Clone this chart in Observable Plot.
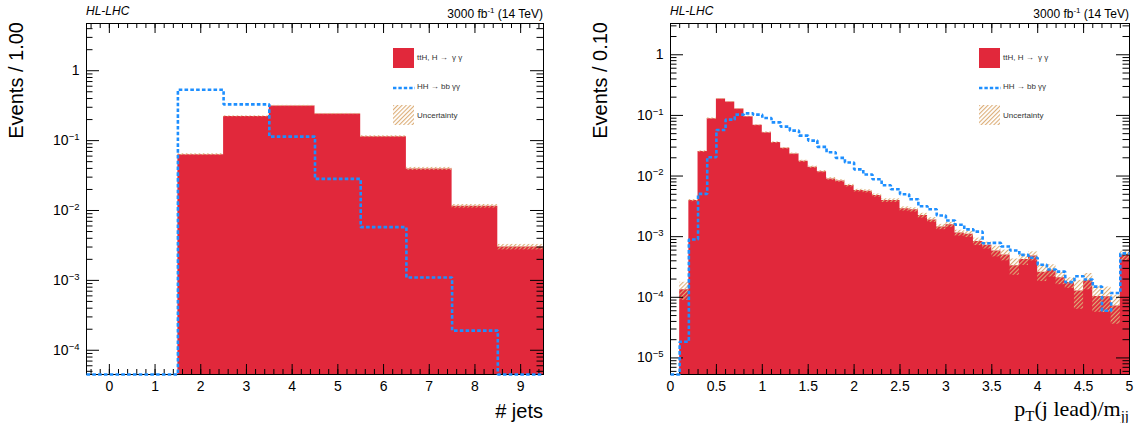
<!DOCTYPE html>
<html>
<head>
<meta charset="utf-8">
<script src="https://cdn.jsdelivr.net/npm/d3@7"></script>
<script src="https://cdn.jsdelivr.net/npm/@observablehq/plot@0.6"></script>
<style>
  html, body { margin: 0; padding: 0; background: #fff; }
  #wrap { position: relative; width: 1137px; height: 423px; overflow: hidden; font-family: 'Liberation Sans', Arial, Helvetica, sans-serif; color: #000; }
  .abs { position: absolute; white-space: nowrap; }
  .ylab { font-size: 20px; line-height: 20px; transform-origin: 0 0; transform: rotate(-90deg) translate(-100%, -50%); }
  .xlab { font-size: 20px; line-height: 20px; }
  .serif { font-family: 'Liberation Serif', 'DejaVu Serif', serif; font-size: 22px; line-height: 22px; }
  .top { font-size: 12px; line-height: 14px; }
  .leg { font-size: 8px; line-height: 10px; color: #333; }
</style>
</head>
<body>
<svg width="0" height="0" style="position:absolute">
  <defs>
    <pattern id="hatch" patternUnits="userSpaceOnUse" width="3" height="3" patternTransform="rotate(45)">
      <rect x="0" y="0" width="1.1" height="3" fill="#dcae78"></rect>
    </pattern>
  </defs>
</svg>
<div id="wrap"></div>
<script>
// ---------------- data: left panel (# jets) ----------------
const jetCategories = [0, 1, 2, 3, 4, 5, 6, 7, 8, 9];
const jetsTTH = [0, 0, 0.063, 0.222, 0.313, 0.24, 0.114, 0.0394, 0.0115, 0.0030];
const jetsHH  = [0, 0, 0.535, 0.33, 0.114, 0.0283, 0.00578, 0.0011, 0.000191, 0];
const jetsRelUnc = [0, 0, 0.03, 0.02, 0.02, 0.02, 0.03, 0.05, 0.06, 0.09];
const jetTicks = [0, 1, 2, 3, 4, 5, 6, 7, 8, 9];

// ---------------- data: right panel (pT(j lead)/mjj) ----------------
const ptBinLow = [0.0, 0.1, 0.2, 0.3, 0.4, 0.5, 0.6, 0.7, 0.8, 0.9,
                  1.0, 1.1, 1.2, 1.3, 1.4, 1.5, 1.6, 1.7, 1.8, 1.9,
                  2.0, 2.1, 2.2, 2.3, 2.4, 2.5, 2.6, 2.7, 2.8, 2.9,
                  3.0, 3.1, 3.2, 3.3, 3.4, 3.5, 3.6, 3.7, 3.8, 3.9,
                  4.0, 4.1, 4.2, 4.3, 4.4, 4.5, 4.6, 4.7, 4.8, 4.9];
const ptTTH = [0, 1.33e-4, 3.94e-3, 0.0253, 0.0883, 0.186, 0.166, 0.127, 0.0953, 0.0686,
               0.052, 0.0356, 0.0287, 0.0232, 0.0175, 0.0140, 0.0118, 8.97e-3, 8.3e-3, 6.96e-3,
               5.76e-3, 5.6e-3, 4.77e-3, 3.94e-3, 3.94e-3, 2.88e-3, 2.77e-3, 2.23e-3, 1.89e-3, 1.45e-3,
               1.57e-3, 1.15e-3, 1.10e-3, 8.3e-4, 7.2e-4, 5.8e-4, 5.0e-4, 3.3e-4, 4.2e-4, 4.8e-4,
               2.6e-4, 2.8e-4, 2.1e-4, 1.75e-4, 1.27e-4, 1.9e-4, 1.03e-4, 1.02e-4, 7.2e-5, 4.9e-4];
const ptHH  = [0, 1.85e-5, 9.0e-4, 5.08e-3, 0.0204, 0.0575, 0.0851, 0.103, 0.108, 0.103,
               0.0906, 0.0769, 0.0652, 0.0561, 0.0464, 0.0384, 0.0303, 0.0247, 0.0199, 0.0167,
               0.0129, 0.0106, 8.85e-3, 7.05e-3, 6.05e-3, 5.01e-3, 4.15e-3, 3.18e-3, 2.84e-3, 2.23e-3,
               1.85e-3, 1.57e-3, 1.32e-3, 1.21e-3, 7.8e-4, 7.9e-4, 6.9e-4, 5.9e-4, 5.0e-4, 4.5e-4,
               3.44e-4, 2.88e-4, 2.65e-4, 1.78e-4, 2.22e-4, 1.97e-4, 1.5e-4, 6.0e-5, 1.18e-4, 5.3e-4];
const ptRelUnc = [0, 0.33, 0.04, 0.03, 0.03, 0.02, 0.02, 0.02, 0.02, 0.02,
                  0.03, 0.03, 0.03, 0.03, 0.04, 0.04, 0.04, 0.05, 0.05, 0.05,
                  0.05, 0.06, 0.06, 0.07, 0.07, 0.08, 0.08, 0.09, 0.09, 0.10,
                  0.10, 0.11, 0.12, 0.14, 0.13, 0.20, 0.20, 0.30, 0.20, 0.17,
                  0.30, 0.23, 0.23, 0.20, 0.50, 0.30, 0.45, 0.45, 0.50, 0.18];
const ptTicks = [0, 0.5, 1, 1.5, 2, 2.5, 3, 3.5, 4, 4.5, 5];

const RED = "#e1283b";
const BLUE = "#1e8fff";

function histPoints(lows, width, vals, ymin) {
  const pts = lows.map((x, i) => ({x, y: Math.max(vals[i], ymin)}));
  pts.push({x: lows[lows.length - 1] + width, y: Math.max(vals[vals.length - 1], ymin)});
  return pts;
}
function uncRects(lows, width, vals, rel) {
  return lows.map((x, i) => ({x1: x, x2: x + width, y1: vals[i] * (1 - rel[i]), y2: vals[i] * (1 + rel[i])}))
             .filter(d => d.y2 > 0);
}
function logMinor(ymin, ymax) {
  const out = [];
  for (let e = -8; e <= 2; e++) for (let k = 2; k <= 9; k++) {
    const v = k * Math.pow(10, e);
    if (v > ymin && v < ymax) out.push(v);
  }
  return out;
}
function decades(ymin, ymax) {
  const out = [];
  for (let e = -8; e <= 2; e++) { const v = Math.pow(10, e); if (v >= ymin && v <= ymax) out.push(v); }
  return out;
}
function fmtLog(d) {
  const e = Math.round(Math.log10(d));
  return e === 0 ? "1" : "10^" + e;
}

function panel(o) {
  const W = o.width, H = 423, mt = 23, mb = 49;
  const fh = H - mt - mb, fw = W - o.ml - o.mr;
  const lows = o.lows, bw = o.bw;
  const redPts = histPoints(lows, bw, o.red, o.ymin);
  const bluePts = histPoints(lows, bw, o.blue, o.ymin);
  const unc = uncRects(lows, bw, o.red, o.rel);
  const dec = decades(o.ymin, o.ymax);
  const ymin = logMinor(o.ymin, o.ymax);
  const svg = Plot.plot({
    width: W, height: H,
    marginTop: mt, marginBottom: mb, marginLeft: o.ml, marginRight: o.mr,
    style: {fontFamily: "'Liberation Sans', Arial, Helvetica, sans-serif", fontSize: "14px", background: "transparent", overflow: "visible", color: "#000"},
    x: {type: "linear", domain: o.xdomain, axis: null},
    y: {type: "log", domain: [o.ymin, o.ymax], axis: null},
    marks: [
      Plot.areaY(redPts, {x: "x", y1: o.ymin, y2: "y", curve: "step-after", fill: RED, clip: true}),
      Plot.rect(unc, {x1: "x1", x2: "x2", y1: "y1", y2: "y2", fill: "url(#hatch)", clip: true}),
      // ticks (inward, all four sides)
      Plot.ruleX(o.xminor, {insetTop: fh - 5, stroke: "#000"}),
      Plot.ruleX(o.xminor, {insetBottom: fh - 5, stroke: "#000"}),
      Plot.ruleX(o.ticks, {insetTop: fh - 10, stroke: "#000"}),
      Plot.ruleX(o.ticks, {insetBottom: fh - 10, stroke: "#000"}),
      Plot.ruleY(ymin, {insetRight: fw - 6.5, stroke: "#000"}),
      Plot.ruleY(ymin, {insetLeft: fw - 6.5, stroke: "#000"}),
      Plot.ruleY(dec, {insetRight: fw - 13, stroke: "#000"}),
      Plot.ruleY(dec, {insetLeft: fw - 13, stroke: "#000"}),
      Plot.axisX({ticks: o.ticks, tickSize: 0, tickPadding: 7, label: null, tickFormat: d => String(d), fontSize: 14}),
      Plot.axisY({ticks: dec, tickSize: 0, tickPadding: 7, label: null, tickFormat: fmtLog, fontSize: 14}),
      Plot.frame({stroke: "#000", strokeWidth: 1}),
      Plot.line(bluePts, {x: "x", y: "y", curve: "step-after", stroke: BLUE, strokeWidth: 2.6,
        strokeDasharray: "3.6,2.2", strokeLinecap: "butt", strokeLinejoin: "miter"})
    ]
  });
  // superscripts for 10^n labels
  d3.select(svg).selectAll("text").each(function () {
    const t = this.textContent;
    const m = /^10\^(-?\d+)$/.exec(t);
    if (m) {
      this.textContent = "10";
      const ts = document.createElementNS("http://www.w3.org/2000/svg", "tspan");
      ts.setAttribute("dy", "-0.55em");
      ts.setAttribute("font-size", "9.5");
      ts.textContent = m[1].replace("-", "\u2212");
      this.appendChild(ts);
    }
  });
  svg.style.position = "absolute";
  svg.style.left = o.left + "px";
  svg.style.top = "0px";
  return svg;
}

const wrap = document.getElementById("wrap");

const jetLows = jetCategories.map(c => c - 0.5);
const jetMinor = [];
for (let i = -2; i <= 47; i++) { const v = i * 0.2; if (v > -0.5 && v < 9.5) jetMinor.push(v); }

wrap.appendChild(panel({
  left: 0, width: 570, ml: 86, mr: 27,
  xdomain: [-0.5, 9.5], lows: jetLows, bw: 1,
  red: jetsTTH, blue: jetsHH, rel: jetsRelUnc,
  ymin: 4.5e-5, ymax: 4.74,
  ticks: jetTicks, xminor: jetMinor
}));

const ptMinor = [];
for (let i = 1; i < 50; i++) ptMinor.push(i / 10);

wrap.appendChild(panel({
  left: 570, width: 567, ml: 100, mr: 8,
  xdomain: [0, 5], lows: ptBinLow, bw: 0.1,
  red: ptTTH, blue: ptHH, rel: ptRelUnc,
  ymin: 5.33e-6, ymax: 3.28,
  ticks: ptTicks, xminor: ptMinor
}));

// ---------------- text & legends ----------------
function add(html, style, cls) {
  const d = document.createElement("div");
  d.className = "abs " + (cls || "");
  d.innerHTML = html;
  Object.assign(d.style, style);
  wrap.appendChild(d);
  return d;
}
function panelText(frameL, frameR, ylabel, xlabelHtml, xcls, xtop) {
  add("HL-LHC", {left: frameL + "px", top: "4px", fontStyle: "italic"}, "top");
  add("3000 fb<sup style='font-size:8px;vertical-align:5px'>-1</sup> (14 TeV)", {right: (1137 - frameR) + "px", top: "4px"}, "top");
  add(ylabel, {left: (frameL - 70) + "px", top: "22px"}, "ylab");
  add(xlabelHtml, {right: (1137 - frameR) + "px", top: xtop + "px"}, xcls);
  const lx = frameR - 150;
  add("", {left: lx + "px", top: "48px", width: "21px", height: "20px", background: RED});
  add("ttH, H \u2192 &nbsp;\u03b3 \u03b3", {left: (lx + 24) + "px", top: "53px"}, "leg");
  add(`<svg width="22" height="4"><line x1="0" y1="2" x2="22" y2="2" stroke="${BLUE}" stroke-width="2.4" stroke-dasharray="3.4,2"></line></svg>`,
      {left: lx + "px", top: "85px", lineHeight: "0"});
  add("HH \u2192 bb \u03b3\u03b3", {left: (lx + 24) + "px", top: "82px"}, "leg");
  add(`<svg width="21" height="20"><rect width="21" height="20" fill="url(#hatch)"></rect></svg>`,
      {left: lx + "px", top: "105px", lineHeight: "0"});
  add("Uncertainty", {left: (lx + 24) + "px", top: "111px"}, "leg");
}
panelText(86, 543, "Events / 1.00", "# jets", "xlab", 401);
panelText(670, 1129, "Events / 0.10",
  "p<sub style='font-size:15px;vertical-align:-5px'>T</sub>(j lead)/m<sub style='font-size:15px;vertical-align:-5px'>jj</sub>",
  "serif", 398);
</script>
</body>
</html>
